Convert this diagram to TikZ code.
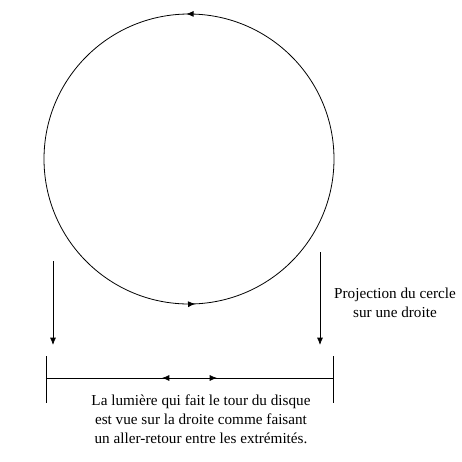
\documentclass[tikz,border=0pt]{standalone}
\usepackage{fontspec}
\setmainfont{Liberation Serif}
\usetikzlibrary{arrows.meta,decorations.markings}
\begin{document}
\begin{tikzpicture}[x=0.75pt,y=-0.75pt,line width=0.6pt]
\tikzset{proj/.style = {-{Latex[length=5.5pt,width=4.5pt]}}}
\tikzset{turn/.style = {postaction={decorate},decoration={markings,
  mark=at position 0.243 with {\arrowreversed{Latex[length=5.5pt,width=4.5pt]}},
  mark=at position 0.747 with {\arrowreversed{Latex[length=5.5pt,width=4.5pt]}}}}}
\tikzset{swing/.style = {postaction={decorate},decoration={markings,
  mark=at position 0.404 with {\arrowreversed{Latex[length=5.5pt,width=4.5pt]}},
  mark=at position 0.596 with {\arrow{Latex[length=5.5pt,width=4.5pt]}}}}}
\tikzset{note/.style = {align=center,inner sep=0pt,font=\fontsize{11.4}{14.3}\selectfont}}
\useasboundingbox (0,0) rectangle (462,462);
\coordinate (c) at (189,159);
\draw[turn] (c) circle (145);
\coordinate (la) at (53,261);
\coordinate (lb) at (53,345);
\coordinate (ra) at (320,252);
\coordinate (rb) at (320,345);
\draw[proj] (la) to (lb);
\draw[proj] (ra) to (rb);
\coordinate (sl) at (46,378);
\coordinate (sr) at (333,378);
\coordinate (slt) at (46,356);
\coordinate (slb) at (46,403);
\coordinate (srt) at (333,356);
\coordinate (srb) at (333,403);
\draw[swing] (sl) to (sr);
\draw (slt) to (slb);
\draw (srt) to (srb);
\node[note] (p) at (395,303) {Projection du cercle\\sur une droite};
\node[note] (t) at (201,419) {La lumière qui fait le tour du disque\\est vue sur la droite comme faisant\\un aller-retour entre les extrémités.};
\end{tikzpicture}
\end{document}
